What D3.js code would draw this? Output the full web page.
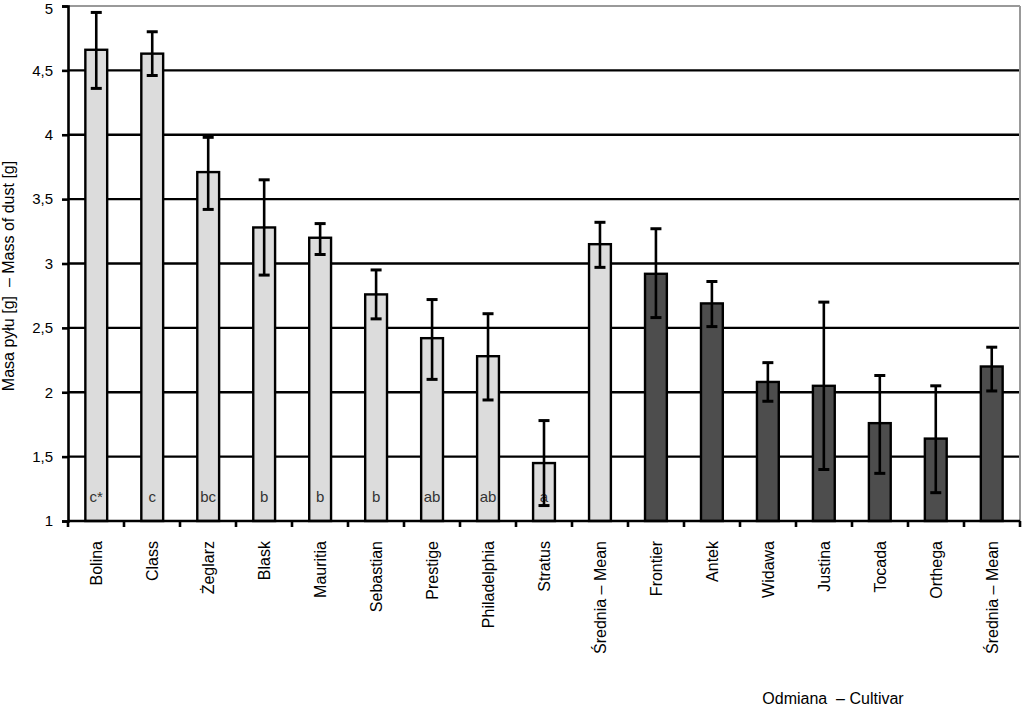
<!DOCTYPE html>
<html>
<head>
<meta charset="utf-8">
<script src="https://cdn.jsdelivr.net/npm/d3@7"></script>
<style>
  body { margin: 0; background: #fff; }
  text { font-family: "Liberation Sans", Arial, sans-serif; }
  .tytul { white-space: pre; }
</style>
</head>
<body>
<script>
// datos
const odmiany = ["Bolina", "Class", "Żeglarz", "Blask", "Mauritia", "Sebastian", "Prestige",
  "Philadelphia", "Stratus", "Średnia – Mean", "Frontier", "Antek", "Widawa", "Justina",
  "Tocada", "Orthega", "Średnia – Mean "]
const masa = [4.66, 4.63, 3.71, 3.28, 3.20, 2.76, 2.42, 2.28, 1.45, 3.15, 2.92, 2.69, 2.08, 2.05, 1.76, 1.64, 2.20]
const bladGora = [4.95, 4.80, 3.98, 3.65, 3.31, 2.95, 2.72, 2.61, 1.78, 3.32, 3.27, 2.86, 2.23, 2.70, 2.13, 2.05, 2.35]
const bladDol = [4.36, 4.46, 3.42, 2.91, 3.07, 2.57, 2.10, 1.94, 1.12, 2.97, 2.58, 2.51, 1.93, 1.40, 1.37, 1.22, 2.01]
const grupa = ["c*", "c", "bc", "b", "b", "b", "ab", "ab", "a", "", "", "", "", "", "", "", ""]
const typ = [0, 0, 0, 0, 0, 0, 0, 0, 0, 0, 1, 1, 1, 1, 1, 1, 1]
const yTicks = [1, 1.5, 2, 2.5, 3, 3.5, 4, 4.5, 5]

const datos = odmiany.map((o, i) => ({
  nazwa: o, v: masa[i], hi: bladGora[i], lo: bladDol[i], g: grupa[i], t: typ[i]
}))

var margin = { top: 6, right: 4, bottom: 186, left: 68 }
var width = 1024 - margin.left - margin.right
var height = 707 - margin.top - margin.bottom

var svg = d3.select("body").append("svg")
    .attr("width", 1024)
    .attr("height", 707)
var g = svg.append("g")
    .attr("transform", "translate(" + margin.left + "," + margin.top + ")")

var x = d3.scaleBand()
    .domain(odmiany)
    .range([0, width])
    .paddingInner(0.61)
    .paddingOuter(0.31)

var y = d3.scaleLinear()
    .domain([1, 5])
    .range([height, 0])

// siatka
g.selectAll(".grid")
  .data(yTicks.slice(1, -1))
  .enter().append("line")
    .attr("x1", 0).attr("x2", width)
    .attr("y1", d => y(d)).attr("y2", d => y(d))
    .attr("stroke", "#000").attr("stroke-width", 2.4)

// ramka szara
g.append("line").attr("x1", 0).attr("x2", width).attr("y1", y(5)).attr("y2", y(5))
    .attr("stroke", "#999").attr("stroke-width", 2)
g.append("line").attr("x1", width).attr("x2", width).attr("y1", 0).attr("y2", height)
    .attr("stroke", "#999").attr("stroke-width", 2)

// slupki
g.selectAll(".bar")
  .data(datos)
  .enter().append("rect")
    .attr("x", d => x(d.nazwa))
    .attr("width", x.bandwidth())
    .attr("y", d => y(d.v))
    .attr("height", d => height - y(d.v))
    .attr("fill", d => d.t == 0 ? "#dcdcdc" : "#4d4d4d")
    .attr("stroke", "#000")
    .attr("stroke-width", 2.4)

// litery
g.selectAll(".lit")
  .data(datos)
  .enter().append("text")
    .attr("x", d => x(d.nazwa) + x.bandwidth() / 2)
    .attr("y", y(1.15))
    .attr("text-anchor", "middle")
    .attr("font-size", 15)
    .attr("fill", "#333")
    .text(d => d.g)

// slupki bledu
var cx = d => x(d.nazwa) + x.bandwidth() / 2
g.selectAll(".err")
  .data(datos)
  .enter().append("line")
    .attr("x1", cx).attr("x2", cx)
    .attr("y1", d => y(d.hi)).attr("y2", d => y(d.lo))
    .attr("stroke", "#000").attr("stroke-width", 2.6)
g.selectAll(".capH")
  .data(datos)
  .enter().append("line")
    .attr("x1", d => cx(d) - 5.5).attr("x2", d => cx(d) + 5.5)
    .attr("y1", d => y(d.hi)).attr("y2", d => y(d.hi))
    .attr("stroke", "#000").attr("stroke-width", 3)
g.selectAll(".capL")
  .data(datos)
  .enter().append("line")
    .attr("x1", d => cx(d) - 5.5).attr("x2", d => cx(d) + 5.5)
    .attr("y1", d => y(d.lo)).attr("y2", d => y(d.lo))
    .attr("stroke", "#000").attr("stroke-width", 3)

// EJE Y
var osY = g.append("g")
    .call(d3.axisLeft(y).tickValues(yTicks).tickSize(6).tickPadding(9)
      .tickFormat(d => String(d).replace(".", ",")))
osY.select(".domain").attr("stroke", "#000").attr("stroke-width", 2.6)
osY.selectAll(".tick line").attr("stroke", "#000").attr("stroke-width", 2.6)
osY.selectAll(".tick text").attr("font-size", 15).attr("fill", "#000")
    .attr("font-family", "Liberation Sans, Arial, sans-serif")
osY.selectAll(".tick text").filter(d => d == 5).attr("dy", "0.5em")

// EJE X
var osX = g.append("g")
    .attr("transform", "translate(0," + height + ")")
osX.append("line").attr("x1", 0).attr("x2", width).attr("y1", 0).attr("y2", 0)
    .attr("stroke", "#000").attr("stroke-width", 2.6)
osX.selectAll(".tk")
  .data(d3.range(odmiany.length + 1))
  .enter().append("line")
    .attr("x1", i => i * width / odmiany.length).attr("x2", i => i * width / odmiany.length)
    .attr("y1", 0).attr("y2", 6)
    .attr("stroke", "#000").attr("stroke-width", 2.6)
osX.selectAll(".lab")
  .data(datos)
  .enter().append("text")
    .attr("transform", d => "translate(" + (cx(d) + 6) + ",20) rotate(-90)")
    .attr("text-anchor", "end")
    .attr("font-size", 16)
    .attr("fill", "#000")
    .text(d => d.nazwa.trim())

// tytuly osi
svg.append("text")
    .attr("class", "tytul")
    .attr("x", 833).attr("y", 704)
    .attr("text-anchor", "middle")
    .attr("font-size", 16)
    .text("Odmiana  – Cultivar")
svg.append("text")
    .attr("class", "tytul")
    .attr("transform", "translate(14,276) rotate(-90)")
    .attr("text-anchor", "middle")
    .attr("font-size", 16)
    .text("Masa pyłu [g]  – Mass of dust [g]")
</script>
</body>
</html>
